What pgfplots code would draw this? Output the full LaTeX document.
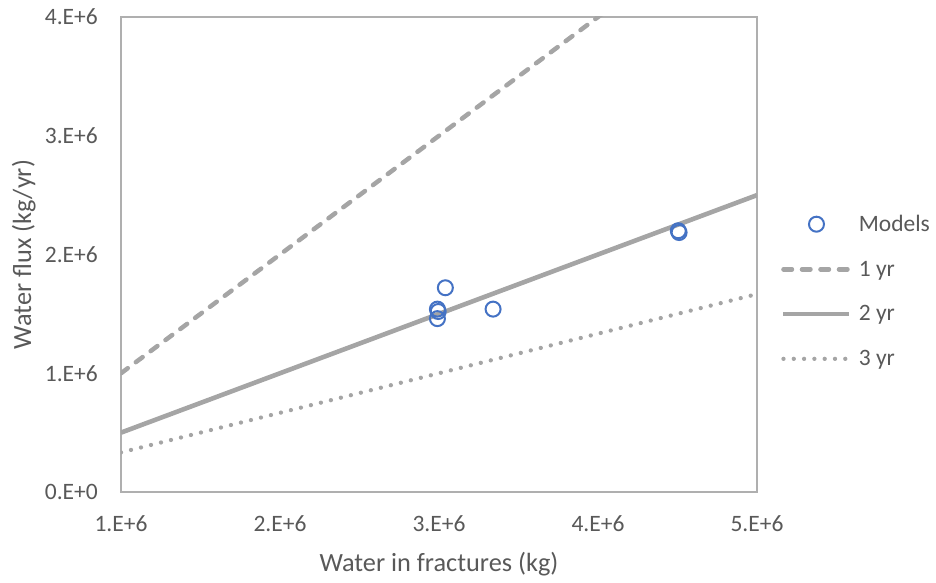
\documentclass[border=0pt]{standalone}
\usepackage{pgfplots}
\pgfplotsset{compat=1.18}
\usepackage{fontspec}
\setmainfont{Carlito}
\definecolor{txt}{HTML}{595959}
\definecolor{frame}{HTML}{AFAFAF}
\definecolor{ref}{HTML}{A5A5A5}
\definecolor{mdl}{HTML}{4472C4}
\pgfplotsset{
  linelegend/.style={legend image code/.code={\draw[##1] (2pt,0pt) -- (68pt,0pt);}},
  marklegend/.style={legend image code/.code={\draw[mark repeat=2,mark phase=2,##1] plot coordinates {(0pt,0pt) (35pt,0pt) (70pt,0pt)};}},
}
\begin{document}
\begin{tikzpicture}[x=1pt,y=1pt]
\begin{axis}[
  name=ax,
  scale only axis,
  width=636pt, height=475pt,
  xmin=1e6, xmax=5e6, ymin=0, ymax=4e6,
  xtick={1e6,2e6,3e6,4e6,5e6},
  xticklabels={1.E+6,2.E+6,3.E+6,4.E+6,5.E+6},
  ytick={0,1e6,2e6,3e6,4e6},
  yticklabels={0.E+0,1.E+6,2.E+6,3.E+6,4.E+6},
  scaled ticks=false,
  major tick length=0pt,
  axis line style={frame, line width=1.6pt},
  tick label style={font=\fontsize{23.5}{28}\selectfont, text=txt, inner sep=0pt},
  xticklabel style={anchor=north, yshift=-23pt},
  yticklabel style={anchor=east, xshift=-23pt},
  label style={font=\fontsize{26.3}{31}\selectfont, text=txt, inner sep=0pt},
  xlabel={Water in fractures (kg)},
  ylabel={Water flux (kg/yr)},
  xlabel style={at={(axis description cs:0.5,-0.1684)}, anchor=base},
  ylabel style={at={(axis description cs:-0.1415,0.5)}, anchor=base, rotate=0},
  clip=true,
  legend cell align=left,
  legend style={draw=none, fill=none, inner sep=0pt, at={(1.0377,0.583)}, anchor=north west,
    font=\fontsize{23.5}{28}\selectfont, text=txt, row sep=28pt,
    nodes={inner sep=0pt},
    /tikz/every odd column/.append style={column sep=7pt}},
]
% simulated models
\addplot[only marks, mark=o, mark size=7.5pt, mdl, line width=2pt, marklegend]
  coordinates {
  (3.04e6,1.72e6)
  (2.99e6,1.54e6)
  (2.995e6,1.52e6)
  (2.99e6,1.46e6)
  (3.34e6,1.54e6)
  (4.505e6,2.20e6)
  (4.51e6,2.185e6)
  };
\addlegendentry{Models}
% residence-time reference lines: flux = water / time
\addplot[ref, line width=4.5pt, line cap=round, dash pattern=on 8.5pt off 10pt, linelegend]
  coordinates {(1e6,1e6) (2e6,2e6) (3e6,3e6) (4e6,4e6) (5e6,5e6)};
\addlegendentry{1 yr}
\addplot[ref, line width=4.6pt, linelegend]
  coordinates {(1e6,0.5e6) (2e6,1.0e6) (3e6,1.5e6) (4e6,2.0e6) (5e6,2.5e6)};
\addlegendentry{2 yr}
\addplot[ref, line width=4.3pt, line cap=round, dash pattern=on 0pt off 10.3pt, linelegend]
  coordinates {(1e6,0.3333e6) (2e6,0.6667e6) (3e6,1.0e6) (4e6,1.3333e6) (5e6,1.6667e6)};
\addlegendentry{3 yr}
\end{axis}
\pgfresetboundingbox
\useasboundingbox ([xshift=-121pt,yshift=-90pt]ax.south west) rectangle ([xshift=179pt,yshift=17pt]ax.north east);
\end{tikzpicture}
\end{document}
